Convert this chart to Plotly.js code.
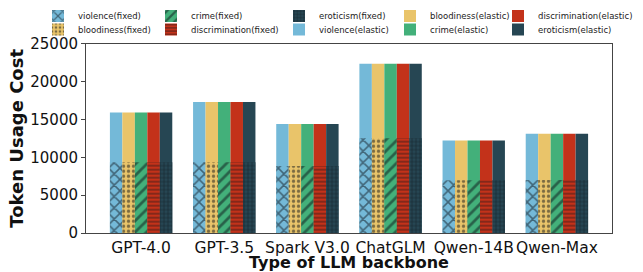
<!DOCTYPE html>
<html><head><meta charset="utf-8">
<script src="https://cdn.plot.ly/plotly-3.0.1.min.js"></script>
<style>html,body{margin:0;padding:0;background:#fff}#chart{width:643px;height:272px}</style>
</head><body><div id="chart"></div>
<script>
// ---- data ----
const models = ['GPT-4.0', 'GPT-3.5', 'Spark V3.0', 'ChatGLM', 'Qwen-14B', 'Qwen-Max'];
const categories = ['violence', 'bloodiness', 'crime', 'discrimination', 'eroticism'];
// token usage (same reading for every sensitive category)
const fixedCost = [9350, 9350, 8850, 12500, 6950, 7000];
const elasticCost = [15900, 17300, 14400, 22350, 12200, 13100];
const yTicks = [0, 5000, 10000, 15000, 20000, 25000];

// ---- styles ----
const colors = ['#74B9D8', '#E9C46A', '#43B07A', '#C3321A', '#264653'];
const patterns = ['x', '.', '/', '-', '+'];
const patSize = [8, 5, 8, 4, 4];
const colTextX = [78, 191, 319, 430, 538];
const rowTextY = [16, 29.5];
const W = 643, H = 272;
const plotL = 86, plotR = 612, plotT = 43.3, plotB = 233.3;
const xRange = [-0.6625, 5.6625];

const traces = [];
const layoutLegends = {};
function legendName(j) { return j === 0 ? 'legend' : 'legend' + (j + 1); }
function addLegend(j) {
  const col = Math.floor(j / 2), row = j % 2;
  layoutLegends[legendName(j)] = {
    xref: 'container', yref: 'container',
    x: (colTextX[col] - 40) / W, xanchor: 'left',
    y: 1 - rowTextY[row] / H, yanchor: 'middle',
    orientation: 'h', bgcolor: 'rgba(0,0,0,0)', borderwidth: 0,
    font: {family: 'DejaVu Sans', size: 8.5, color: '#222'}
  };
}
// elastic first (drawn beneath), fixed on top
categories.forEach((c, k) => {
  const j = 5 + k;
  addLegend(j);
  traces.push({
    type: 'bar', x: models, y: elasticCost, name: c + '(elastic)',
    offsetgroup: c, legend: legendName(j),
    marker: {color: colors[k], line: {width: 0}}, hoverinfo: 'y'
  });
});
categories.forEach((c, k) => {
  const j = k;
  addLegend(j);
  traces.push({
    type: 'bar', x: models, y: fixedCost, name: c + '(fixed)',
    offsetgroup: c, legend: legendName(j),
    marker: {color: colors[k], line: {width: 0},
      pattern: {shape: patterns[k], fillmode: 'overlay', fgcolor: '#0d1218', size: patSize[k], solidity: 0.35}},
    hoverinfo: 'y'
  });
});

const layout = Object.assign({
  width: W, height: H,
  margin: {l: plotL, r: W - plotR, t: plotT, b: H - plotB},
  paper_bgcolor: '#fff', plot_bgcolor: '#fff',
  barmode: 'group', bargap: 0.25, bargroupgap: 0,
  font: {family: 'DejaVu Sans', color: '#111'},
  showlegend: true,
  xaxis: {
    range: xRange, showline: true, mirror: true, linecolor: '#444', linewidth: 1,
    ticks: '', showgrid: false, zeroline: false,
    tickangle: 0, automargin: false,
    tickfont: {family: 'DejaVu Sans', size: 15.5, color: '#111'},
    title: {text: '<b>Type of LLM backbone</b>', font: {family: 'DejaVu Sans', size: 16, color: '#111'}, standoff: 3}
  },
  // tick marks only (same positions as the category slots)
  xaxis2: {
    overlaying: 'x', anchor: 'y', side: 'bottom', type: 'linear', range: xRange,
    tickmode: 'array', tickvals: models.map((m, i) => i), showticklabels: false,
    ticks: 'outside', ticklen: 4, tickcolor: '#444', showline: false, showgrid: false, zeroline: false
  },
  yaxis: {
    range: [0, 25000], tickvals: yTicks, tickformat: 'd', showline: true, mirror: true, linecolor: '#444', linewidth: 1,
    ticks: 'outside', ticklen: 4, tickcolor: '#444', showgrid: false, zeroline: false, automargin: false,
    tickfont: {family: 'DejaVu Sans', size: 15, color: '#111'},
    title: {text: '<b>Token Usage Cost</b>', font: {family: 'DejaVu Sans', size: 18, color: '#111'}, standoff: 1}
  }
}, layoutLegends);

Plotly.newPlot('chart', traces, layout, {displayModeBar: false, staticPlot: true});
</script></body></html>
